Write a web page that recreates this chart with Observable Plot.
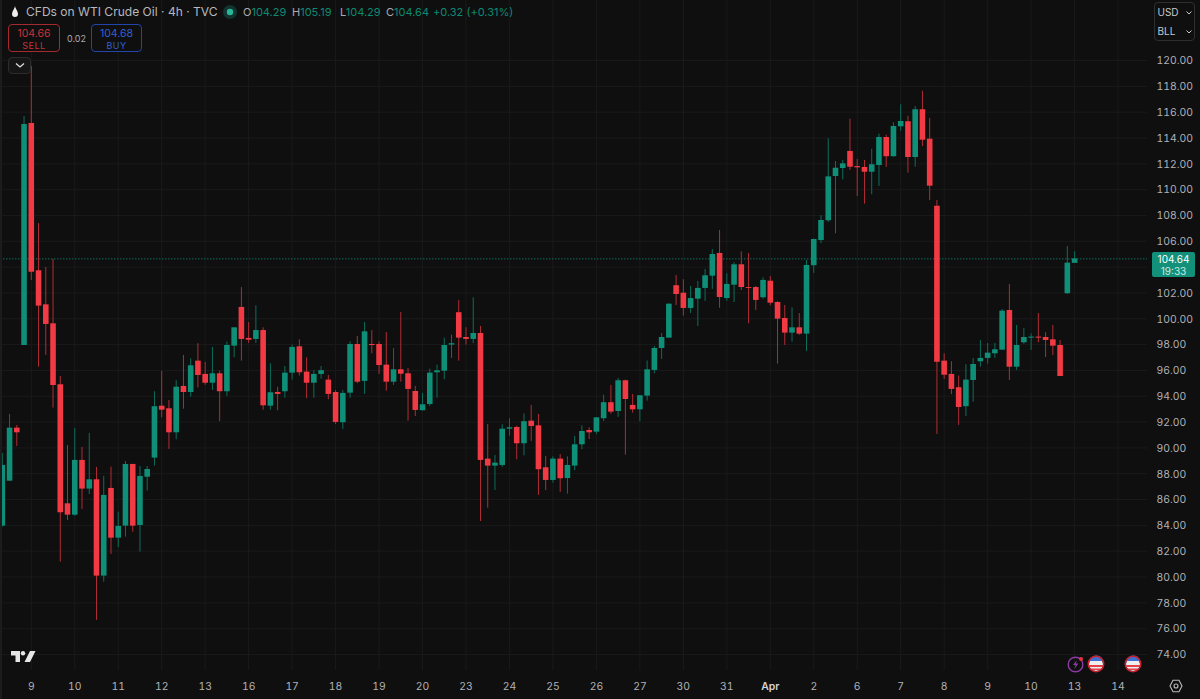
<!DOCTYPE html>
<html>
<head>
<meta charset="utf-8">
<script src="https://cdn.jsdelivr.net/npm/d3@7"></script>
<script src="https://cdn.jsdelivr.net/npm/@observablehq/plot@0.6"></script>
<style>
html,body{margin:0;padding:0;background:#0f0f0f;overflow:hidden;width:1200px;height:699px}
#wrap{position:relative;width:1200px;height:699px;font-family:Inter,"Noto Sans",sans-serif;color:#c4c6cb}
#wrap svg.plot{display:block}
.abs{position:absolute;white-space:nowrap}
.btn{position:absolute;box-sizing:border-box;border-radius:4px;border:1px solid;text-align:center;background:#0f0f0f}
.btn b{display:block;font-weight:400;font-size:10.5px;line-height:12px;margin-top:3px}
.btn i{display:block;font-style:normal;font-size:9px;line-height:11px;letter-spacing:.5px}
.g{color:#0d8a73}
.sel{position:absolute;font-size:10px;color:#c8c9cc}
.ohlc{position:absolute;top:3px;font-size:11px;line-height:18px;color:#a9abb0;white-space:nowrap}
.tagline{position:absolute;left:1152px;width:43px;text-align:center;font-size:10px;line-height:12px;height:12px}
</style>
</head>
<body>
<div id="wrap"></div>
<script>
const opens = [83.94,87.42,91.53,97.93,115.12,103.72,101.08,99.61,94.89,85.67,84.79,89.03,86.81,87.53,80.07,86.86,83.01,83.94,88.72,83.99,87.73,89.21,93.23,93.03,91.17,94.76,94.29,96.72,95.69,95.01,95.74,94.35,97.88,100.88,98.48,98.40,99.09,93.23,94.29,94.35,95.79,97.83,95.87,95.01,95.69,95.25,94.29,91.95,94.24,98.01,95.15,98.01,98.01,96.41,95.09,96.05,95.74,94.37,92.88,93.36,95.82,95.94,97.96,100.47,98.55,98.40,98.86,89.13,88.59,88.64,91.45,91.58,90.32,92.07,91.71,88.46,87.48,89.13,87.63,88.59,90.24,91.35,91.22,92.26,93.50,92.82,95.20,93.29,92.95,94.01,96.00,97.70,98.50,102.56,101.98,100.80,101.52,102.35,103.30,105.06,101.57,102.60,104.18,102.42,102.42,101.63,102.91,101.26,100.02,98.89,99.30,98.81,104.11,106.06,107.59,111.02,111.64,112.96,111.79,111.72,111.35,111.87,114.04,112.55,114.87,115.26,112.49,116.19,113.91,108.72,96.72,95.69,94.66,93.19,95.22,96.67,96.93,97.29,97.57,100.64,96.25,98.14,98.50,98.58,98.55,98.37,97.93,101.94,104.29];
const highs = [89.57,92.59,91.74,115.67,119.54,107.38,103.97,104.59,95.53,90.19,91.51,90.03,91.12,88.49,87.79,88.51,85.02,88.95,88.72,88.56,88.56,94.35,95.92,93.67,95.20,97.16,96.90,98.07,96.62,97.78,95.94,98.19,99.30,102.42,99.71,101.01,99.30,96.51,94.70,96.31,97.96,98.37,96.98,95.98,96.31,95.61,94.45,94.45,98.22,98.63,99.71,99.09,98.22,98.94,97.70,100.49,96.15,94.76,94.22,96.10,96.41,98.50,98.73,101.42,99.30,101.63,99.40,91.81,89.41,91.79,92.26,91.68,92.63,93.29,92.59,89.34,89.31,89.49,89.31,90.89,91.71,91.56,92.33,94.08,94.84,95.38,95.25,94.14,94.04,96.73,97.86,98.86,101.16,103.35,103.02,102.50,102.89,103.82,105.37,106.84,103.49,104.34,105.19,105.06,102.50,103.18,103.28,101.32,101.03,100.85,100.41,104.52,106.17,107.98,113.94,112.18,112.26,115.46,112.34,112.26,113.13,114.30,114.22,115.18,116.57,115.69,116.44,117.63,115.51,109.16,97.29,96.67,95.56,96.44,96.93,98.32,98.09,98.09,100.72,102.66,99.48,99.25,98.84,100.41,98.92,99.48,98.32,105.60,105.19];
const lows = [83.86,87.42,90.11,97.93,102.97,96.25,97.16,93.08,81.15,84.38,84.69,85.23,86.39,76.64,79.60,81.75,82.27,83.09,83.47,81.93,86.65,88.59,92.33,89.88,90.63,93.00,93.93,94.64,94.84,94.45,92.03,93.98,96.98,96.72,98.09,98.09,92.92,92.92,92.88,93.85,95.25,95.56,93.81,93.85,95.32,93.73,91.81,91.43,93.85,94.97,94.14,97.29,95.69,94.39,94.84,95.09,92.07,92.43,92.85,93.21,93.85,95.28,96.93,96.72,97.96,98.07,84.30,85.33,86.70,88.49,90.91,89.08,89.38,90.50,86.32,86.70,87.27,86.55,86.42,88.23,89.86,90.65,91.04,92.05,92.61,92.36,89.44,92.69,92.03,93.62,95.74,96.85,98.50,101.03,100.20,100.41,99.40,101.34,102.27,100.82,101.36,101.26,102.19,99.61,100.64,101.50,101.01,96.49,97.93,98.19,98.71,97.47,103.51,105.81,107.46,106.58,110.76,111.49,109.47,108.88,109.60,110.25,111.72,112.52,114.53,111.28,111.74,113.34,109.16,91.04,95.30,94.12,91.74,92.43,93.54,96.25,96.49,96.93,97.55,95.22,96.00,98.03,97.55,98.14,97.00,97.16,95.53,101.88,104.29];
const closes = [88.64,91.53,91.17,115.05,103.61,100.98,99.56,94.83,84.98,84.79,89.03,86.81,87.53,80.07,86.32,83.01,83.92,88.72,83.94,87.79,88.33,93.19,92.92,91.17,94.70,94.29,96.36,95.61,95.01,95.74,94.35,97.93,99.30,98.40,98.34,99.09,93.26,94.27,94.14,95.79,97.78,95.82,95.01,95.69,95.98,94.14,91.97,94.22,98.01,95.09,98.99,97.93,96.38,95.09,96.05,95.71,94.53,92.90,93.34,95.79,95.97,97.93,98.07,98.50,98.40,98.86,89.03,88.59,88.82,91.45,91.56,90.32,92.03,91.66,88.31,87.48,89.13,87.61,88.64,90.24,91.27,91.17,92.33,93.50,92.77,95.20,93.75,92.95,94.04,96.05,97.70,98.55,101.13,101.88,100.80,101.57,102.35,103.33,104.98,101.65,102.66,104.18,102.42,102.35,101.42,102.97,101.21,99.97,98.89,99.30,98.81,104.13,106.14,107.61,110.99,111.66,112.00,111.74,111.69,111.35,111.93,114.04,112.55,114.89,115.28,112.49,116.19,113.83,110.27,96.64,95.63,94.53,93.13,95.25,96.46,96.93,97.34,97.60,100.59,96.25,97.93,98.55,98.58,98.50,98.32,97.88,95.53,104.31,104.64];

const priceTicks = [74,76,78,80,82,84,86,88,90,92,94,96,98,100,102,104,106,108,110,112,114,116,118,120];
const hiddenPriceLabels = [104]; // covered by the last-price tag in the reference
const dayTickIndex = [4,10,16,22,28,34,40,46,52,58,64,70,76,82,88,94,100,106,112,118,124,130,136,142,148,154];
const dayTickLabels = ["9","10","11","12","13","16","17","18","19","20","23","24","25","26","27","30","31","Apr","2","6","7","8","9","10","13","14"];
const lastPrice = [104.64];

const upBody = "#0f8f78", downBody = "#f23a45", upWick = "#0c6e5c", downWick = "#b02d35";
const candles = opens.map((o,i)=>({i,open:o,high:highs[i],low:lows[i],close:closes[i],up:closes[i]>=o}));
const labelOf = new Map(dayTickIndex.map((t,k)=>[t,dayTickLabels[k]]));

const chart = Plot.plot({
  width:1200,height:699,
  marginTop:0,marginLeft:0,marginRight:53,marginBottom:29,
  style:{background:"#0f0f0f",fontFamily:"Inter, 'Noto Sans', sans-serif",fontSize:"10.4px",color:"#b0b2b7"},
  x:{type:"linear",domain:[-0.25,158.065],label:null},
  y:{type:"linear",domain:[72.76,124.65],label:null},
  marks:[
    Plot.gridY(priceTicks,{stroke:"#1a1a1a",strokeOpacity:1}),
    Plot.gridX(dayTickIndex,{stroke:"#1a1a1a",strokeOpacity:1}),
    Plot.ruleY(lastPrice,{stroke:"#0f6e5d",strokeDasharray:"1.5 1.5",strokeWidth:1}),
    Plot.ruleX(candles,{x:"i",y1:"low",y2:"high",stroke:d=>d.up?upWick:downWick,strokeWidth:1}),
    Plot.ruleX(candles,{x:"i",y1:"open",y2:"close",stroke:d=>d.up?upBody:downBody,strokeWidth:5.6}),
    Plot.axisY({anchor:"right",ticks:priceTicks.filter(t=>!hiddenPriceLabels.includes(t)),tickFormat:d=>d.toFixed(2),tickSize:0,tickPadding:9,dy:0.5,label:null,fill:"#b0b2b7"}),
    Plot.axisX({ticks:dayTickIndex.filter(t=>labelOf.get(t)!=="Apr"),tickFormat:d=>labelOf.get(d),tickSize:0,tickPadding:12,label:null,fill:"#b0b2b7"}),
    Plot.axisX({ticks:dayTickIndex.filter(t=>labelOf.get(t)==="Apr"),tickFormat:d=>labelOf.get(d),tickSize:0,tickPadding:12,label:null,fill:"#d4d5d9",fontWeight:600})
  ]
});
const wrap = document.getElementById("wrap");
wrap.appendChild(chart);

wrap.insertAdjacentHTML("beforeend",`
<div class="abs" style="left:0;top:0;width:2px;height:699px;background:#1c1c1c"></div>
<svg class="abs" style="left:10px;top:5px" width="10" height="14" viewBox="0 0 10 14"><path d="M5 1C5 3 8 6 8 9A3 3 0 0 1 2 9C2 6 5 3 5 1Z" fill="#eee"/></svg>
<div class="abs" style="left:26px;top:2px;font-size:12.05px;line-height:20px;color:#b6b8bd">CFDs on WTI Crude Oil · 4h · TVC</div>
<svg class="abs" style="left:222px;top:4px" width="16" height="16"><circle cx="8" cy="8" r="7" fill="#12332e"/><circle cx="8" cy="8" r="3.2" fill="#2bb59a"/></svg>
<div class="ohlc" style="left:243px">O<span class="g">104.29</span></div>
<div class="ohlc" style="left:292px">H<span class="g">105.19</span></div>
<div class="ohlc" style="left:340px">L<span class="g">104.29</span></div>
<div class="ohlc" style="left:386px">C<span class="g">104.64</span></div>
<div class="ohlc" style="left:433px"><span class="g">+0.32 (+0.31%)</span></div>
<div class="btn" style="left:8px;top:24px;width:52px;height:28px;border-color:#a32a31;color:#c8323a"><b>104.66</b><i>SELL</i></div>
<div class="abs" style="left:67px;top:33px;font-size:9px;color:#a9abb0">0.02</div>
<div class="btn" style="left:91px;top:24px;width:51px;height:28px;border-color:#2344a8;color:#2f5fd6"><b>104.68</b><i>BUY</i></div>
<div class="btn" style="left:8px;top:57px;width:23px;height:17px;border-color:#2c2c2c;background:#161616"></div>
<svg class="abs" style="left:15px;top:62px" width="10" height="7"><path d="M1 1.5L5 5L9 1.5" fill="none" stroke="#ddd" stroke-width="1.3"/></svg>
<div class="abs" style="left:1154px;top:2px;width:41px;height:39px;box-sizing:border-box;border:1px solid #2e2e2e;border-radius:4px"></div>
<div class="sel" style="left:1157.5px;top:6px">USD</div>
<div class="sel" style="left:1157.5px;top:25px">BLL</div>
<svg class="abs" style="left:1186px;top:11px" width="6" height="4"><path d="M.5 .5L3 3L5.5 .5" fill="none" stroke="#ccc"/></svg>
<svg class="abs" style="left:1186px;top:30px" width="6" height="4"><path d="M.5 .5L3 3L5.5 .5" fill="none" stroke="#ccc"/></svg>
<div class="abs" style="left:1152px;top:252px;width:43px;height:25px;background:#12907a;border-radius:2px"></div>
<div class="tagline" style="top:252.5px;color:#fff">104.64</div>
<div class="tagline" style="top:264.5px;color:#c8e8e0">19:33</div>
<svg class="abs" style="left:11px;top:650px" width="25" height="14" viewBox="0 0 25 14"><path d="M0 1H9V12H4.5V5.5H0ZM19 1H24.5L19 12H13.5Z" fill="#e6e6e6"/><circle cx="12" cy="3.3" r="2.2" fill="#e6e6e6"/></svg>
<svg class="abs" style="left:1067px;top:655px" width="18" height="18" viewBox="0 0 18 18"><circle cx="8.5" cy="9.5" r="7.3" fill="none" stroke="#8e3aa5" stroke-width="1.4"/><path d="M10 5L6 10H8.6L7.4 14L11.4 8.6H8.8Z" fill="#8e3aa5"/><circle cx="14" cy="4" r="2" fill="#e8323c"/></svg>
<svg class="abs" style="left:1087px;top:655px" width="18" height="18" viewBox="0 0 18 18"><circle cx="9" cy="9" r="7" fill="#eee"/><path d="M2.6 6H15.4V3.8A7 7 0 0 0 2.6 6Z" fill="#3d6fd0"/><path d="M2 10H16V12H2.7ZM3.5 13.5H14.5L13 15H5Z" fill="#e6404a"/><circle cx="9" cy="9" r="7.8" fill="none" stroke="#c8202c" stroke-width="1.4"/></svg>
<svg class="abs" style="left:1124px;top:655px" width="18" height="18" viewBox="0 0 18 18"><circle cx="9" cy="9" r="7" fill="#eee"/><path d="M2.6 6H15.4V3.8A7 7 0 0 0 2.6 6Z" fill="#3d6fd0"/><path d="M2 10H16V12H2.7ZM3.5 13.5H14.5L13 15H5Z" fill="#e6404a"/><circle cx="9" cy="9" r="7.8" fill="none" stroke="#c8202c" stroke-width="1.4"/></svg>
<svg class="abs" style="left:1169px;top:679px" width="14" height="14" viewBox="0 0 14 14"><path d="M4 1.2H10L13 7L10 12.8H4L1 7Z" fill="none" stroke="#bbb" stroke-width="1.1"/><circle cx="7" cy="7" r="2" fill="none" stroke="#bbb" stroke-width="1.1"/></svg>
`);
</script>
</body>
</html>
